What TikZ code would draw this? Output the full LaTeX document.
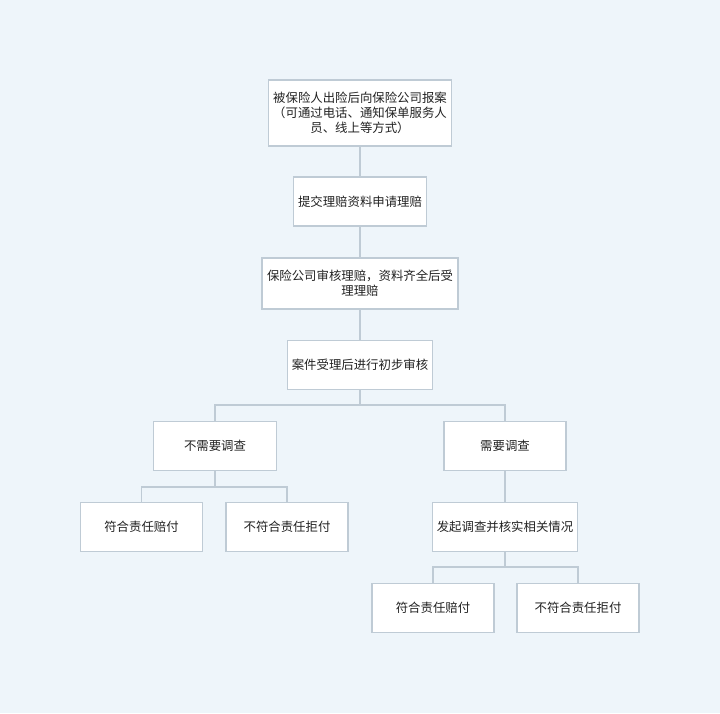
\documentclass[tikz,border=0pt]{standalone}
\usepackage{fontspec}
\newfontfamily\cjk{Noto Sans CJK SC}
\definecolor{bg}{HTML}{EEF5FA}
\definecolor{edge}{HTML}{BFCBD5}
\definecolor{txt}{HTML}{222222}
\begin{document}
\begin{tikzpicture}[x=1pt,y=-1pt,
  box/.style={draw=edge,fill=white,line width=1.1pt,inner sep=0pt,text=txt,
    font=\cjk\fontsize{12.4}{15}\selectfont,align=center},
  link/.style={draw=edge,line width=1.1pt}]
\fill[bg] (0,0) rectangle (720,713);
\useasboundingbox (0,0) rectangle (720,713);
\node[box,minimum width=183pt,minimum height=66pt] (b1) at (360,113) {被保险人出险后向保险公司报案\\（可通过电话、通知保单服务人\\员、线上等方式）};
\node[box,minimum width=133pt,minimum height=49pt] (b2) at (360,201.5) {提交理赔资料申请理赔};
\node[box,minimum width=196pt,minimum height=51pt] (b3) at (360,283.5) {保险公司审核理赔，资料齐全后受\\理理赔};
\node[box,minimum width=145pt,minimum height=49pt] (b4) at (360,365) {案件受理后进行初步审核};
\node[box,minimum width=123pt,minimum height=49pt] (b5) at (215,446) {不需要调查};
\node[box,minimum width=122pt,minimum height=49pt] (b6) at (505,446) {需要调查};
\node[box,minimum width=122pt,minimum height=49pt] (b7) at (141.5,527) {符合责任赔付};
\node[box,minimum width=122pt,minimum height=49pt] (b8) at (287,527) {不符合责任拒付};
\node[box,minimum width=145pt,minimum height=49pt] (b9) at (505,527) {发起调查并核实相关情况};
\node[box,minimum width=122pt,minimum height=49pt] (b10) at (433,608) {符合责任赔付};
\node[box,minimum width=122pt,minimum height=49pt] (b11) at (578,608) {不符合责任拒付};
\coordinate (j1) at (360,405);
\coordinate (j2) at (215,487);
\coordinate (j3) at (505,567);
\draw[link] (b1.south) -- (b2.north);
\draw[link] (b2.south) -- (b3.north);
\draw[link] (b3.south) -- (b4.north);
\draw[link] (b4.south) -- (j1);
\draw[link] (j1) -| (b5.north);
\draw[link] (j1) -| (b6.north);
\draw[link] (b5.south) -- (j2);
\draw[link] (j2) -| (b7.north);
\draw[link] (j2) -| (b8.north);
\draw[link] (b6.south) -- (b9.north);
\draw[link] (b9.south) -- (j3);
\draw[link] (j3) -| (b10.north);
\draw[link] (j3) -| (b11.north);
\end{tikzpicture}
\end{document}
